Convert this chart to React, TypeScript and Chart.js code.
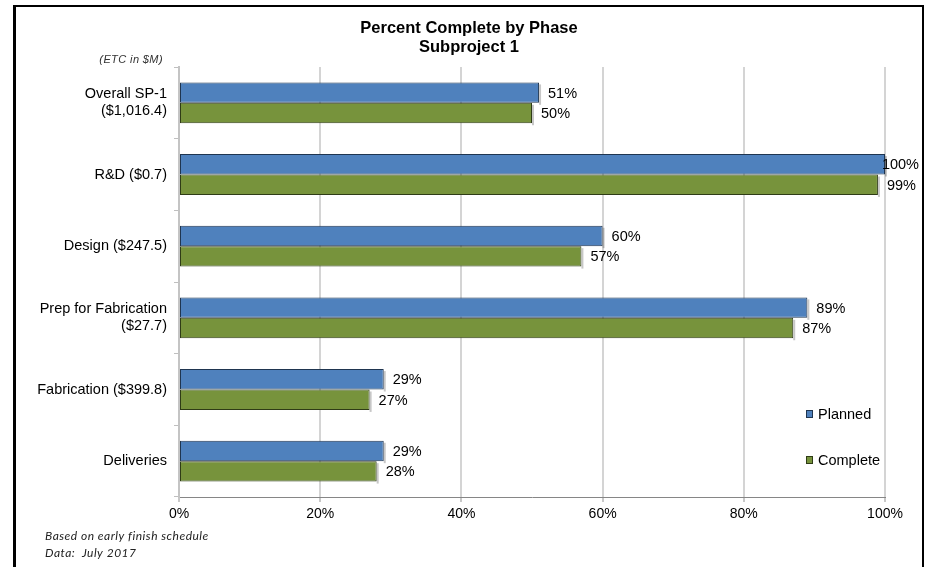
import React, { useEffect, useRef } from "react";
import { Chart, registerables } from "chart.js";

Chart.register(...registerables);

const categories: (string | string[])[] = [
  ["Overall SP-1", "($1,016.4)"],
  "R&D ($0.7)",
  "Design ($247.5)",
  ["Prep for Fabrication", "($27.7)"],
  "Fabrication ($399.8)",
  "Deliveries",
];
const planned = [51, 100, 60, 89, 29, 29];
const complete = [50, 99, 57, 87, 27, 28];
const seriesNames = ["Planned", "Complete"];
const titleLines = ["Percent Complete by Phase", "Subproject 1"];
const unitNote = "(ETC in $M)";
const footnotes = ["Based on early finish schedule", "Data:  July 2017"];

const FONT = "'Liberation Sans', Arial, sans-serif";
const BLUE = "#4F81BD";
const BLUE_EDGE = "#1f3550";
const GREEN = "#77933C";
const GREEN_EDGE = "#2f3c16";

const shadowPlugin = {
  id: "barShadow",
  beforeDatasetsDraw(chart: any) {
    const ctx = chart.ctx;
    ctx.save();
    ctx.fillStyle = "rgba(0,0,0,0.22)";
    chart.data.datasets.forEach((_ds: any, di: number) => {
      const meta = chart.getDatasetMeta(di);
      meta.data.forEach((el: any) => {
        const h = el.height;
        ctx.fillRect(el.x, el.y - h / 2 + 2, 2, h);
      });
    });
    ctx.restore();
  },
};

const decorPlugin = {
  id: "decor",
  afterDraw(chart: any) {
    const ctx = chart.ctx;
    const W = chart.width;
    const H = chart.height;
    ctx.save();
    // frame
    ctx.fillStyle = "#000";
    ctx.fillRect(13, 5, W - 13 - 1, 2);
    ctx.fillRect(13, 5, 3, H - 5);
    ctx.fillRect(W - 3, 5, 2, H - 5);
    // title
    ctx.fillStyle = "#000";
    ctx.textAlign = "center";
    ctx.textBaseline = "middle";
    ctx.font = `bold 16.5px ${FONT}`;
    ctx.fillText(titleLines[0], 469, 28);
    ctx.fillText(titleLines[1], 469, 47);
    // unit note
    ctx.font = `italic 11px ${FONT}`;
    (ctx as any).letterSpacing = "0.4px";
    ctx.fillStyle = "#333";
    ctx.textAlign = "right";
    ctx.fillText(unitNote, 163, 60);
    // footnotes
    ctx.textAlign = "left";
    ctx.font = `italic 12px Lato, ${FONT}`;
    (ctx as any).letterSpacing = "0.5px";
    ctx.fillStyle = "#222";
    ctx.fillText(footnotes[0], 45, 536);
    ctx.fillText(footnotes[1], 45, 553);
    (ctx as any).letterSpacing = "0px";
    // data labels
    ctx.font = `14.5px ${FONT}`;
    ctx.fillStyle = "#000";
    ctx.textAlign = "left";
    chart.data.datasets.forEach((ds: any, di: number) => {
      const meta = chart.getDatasetMeta(di);
      meta.data.forEach((el: any, i: number) => {
        const txt = ds.data[i] + "%";
        const tw = ctx.measureText(txt).width;
        const x = Math.min(el.x + 9, W - 6 - tw);
        ctx.fillText(txt, x, el.y + 1);
      });
    });
    // legend
    const items = [
      { name: seriesNames[0], fill: BLUE, edge: BLUE_EDGE, y: 414 },
      { name: seriesNames[1], fill: GREEN, edge: GREEN_EDGE, y: 460 },
    ];
    items.forEach((it) => {
      ctx.fillStyle = it.fill;
      ctx.fillRect(806, it.y - 4, 7, 8);
      ctx.strokeStyle = it.edge;
      ctx.lineWidth = 1;
      ctx.strokeRect(806.5, it.y - 3.5, 6, 7);
      ctx.fillStyle = "#000";
      ctx.fillText(it.name, 818, it.y + 1);
    });
    ctx.restore();
  },
};

export default function App() {
  const ref = useRef<HTMLCanvasElement | null>(null);
  useEffect(() => {
    if (!ref.current) return;
    const chart = new Chart(ref.current, {
      type: "bar",
      data: {
        labels: categories as any,
        datasets: [
          {
            label: seriesNames[0],
            data: planned,
            backgroundColor: BLUE,
            borderColor: BLUE_EDGE,
            borderWidth: 1,
            borderSkipped: false,
            barPercentage: 1,
            categoryPercentage: 0.57,
          },
          {
            label: seriesNames[1],
            data: complete,
            backgroundColor: GREEN,
            borderColor: GREEN_EDGE,
            borderWidth: 1,
            borderSkipped: false,
            barPercentage: 1,
            categoryPercentage: 0.57,
          },
        ],
      },
      options: {
        indexAxis: "y",
        responsive: false,
        animation: false,
        layout: { padding: { top: 67, right: 40, bottom: 0, left: 0 } },
        plugins: {
          legend: { display: false },
          title: { display: false },
          tooltip: { enabled: false },
        },
        scales: {
          x: {
            min: 0,
            max: 100,
            ticks: {
              stepSize: 20,
              callback: (v: any) => v + "%",
              font: { family: FONT, size: 14 },
              color: "#000",
              padding: 4,
              maxRotation: 0,
            },
            grid: {
              color: "#d4d4d4",
              lineWidth: 2,
              tickLength: 5,
              tickColor: "#c8c8c8",
            },
            border: { color: "#868686", width: 1 },
            afterFit: (s: any) => {
              s.height = 70;
            },
          },
          y: {
            ticks: {
              font: { family: FONT, size: 14.5, lineHeight: 1.18 },
              color: "#000",
              padding: 7,
            },
            grid: {
              display: true,
              drawOnChartArea: false,
              offset: true,
              tickLength: 5,
              color: "#bfbfbf",
              lineWidth: 1,
            },
            border: { color: "#c4c4c4", width: 2 },
            afterFit: (s: any) => {
              s.width = 179;
            },
          },
        },
      },
      plugins: [shadowPlugin, decorPlugin],
    } as any);
    return () => chart.destroy();
  }, []);
  return (
    <div style={{ position: "fixed", left: 0, top: 0, width: 925, height: 567, background: "#fff" }}>
      <canvas ref={ref} width={925} height={567} />
    </div>
  );
}
